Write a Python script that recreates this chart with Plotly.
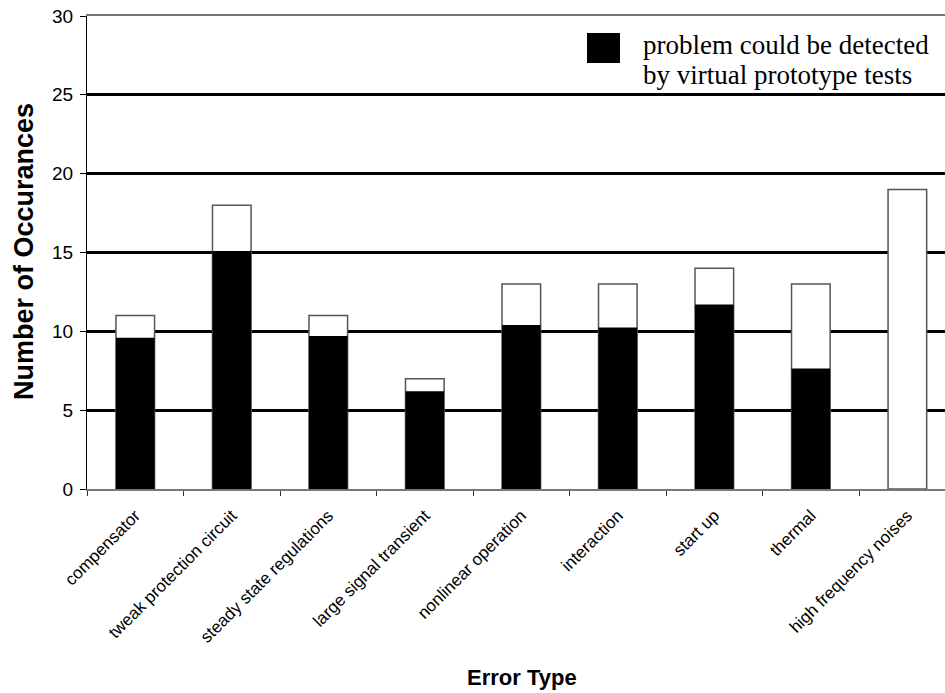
import plotly.graph_objects as go

categories = ["compensator", "tweak protection circuit", "steady state regulations",
              "large signal transient", "nonlinear operation", "interaction",
              "start up", "thermal", "high frequency noises"]
total_occurrences = [11, 18, 11, 7, 13, 13, 14, 13, 19]
detected_by_vp = [9.6, 15.1, 9.7, 6.2, 10.4, 10.25, 11.7, 7.65, 0]
y_tick_values = [0, 5, 10, 15, 20, 25, 30]
legend_lines = ["problem could be detected", "by virtual prototype tests"]
x_title = "Error Type"
y_title = "Number of Occurances"

W, H = 945, 693
# plot area in pixels
L, R, T, B = 87, 945, 16, 489
PW, PH = R - L, B - T


def px(x):
    return (x - L) / PW


def py(y):
    return (B - y) / PH


fig = go.Figure()
fig.add_trace(go.Bar(
    x=categories, y=total_occurrences, name="all problems",
    marker=dict(color="white", line=dict(color="#555555", width=1.5)),
    width=0.4, showlegend=False))
fig.add_trace(go.Bar(
    x=categories, y=detected_by_vp, name=" ".join(legend_lines),
    marker=dict(color="black", line=dict(width=0)),
    width=0.4, showlegend=False))

fig.update_layout(
    width=W, height=H,
    margin=dict(l=L, r=W - R, t=T, b=H - B),
    paper_bgcolor="white", plot_bgcolor="white",
    barmode="overlay",
    font=dict(family="Liberation Sans, Arial, sans-serif", color="black"),
    showlegend=False,
    xaxis=dict(
        range=[-0.5, 8.39],
        showline=True, linecolor="#777777", linewidth=2, mirror=True,
        ticks="outside", ticklen=5, tickcolor="#333333", tickson="boundaries",
        tickangle=-45, tickfont=dict(size=17), ticklabelstandoff=8,
        showgrid=False, automargin=False,
    ),
    yaxis=dict(
        range=[0, 30], tickvals=y_tick_values,
        showline=True, linecolor="black", linewidth=1,
        ticks="outside", ticklen=6, tickcolor="black",
        tickfont=dict(size=19), ticklabelstandoff=3, ticklabeloverflow="allow",
        showgrid=True, gridcolor="black", gridwidth=2.5,
        zeroline=False, automargin=False,
    ),
)

# axis titles
fig.add_annotation(xref="paper", yref="paper", x=px(522), y=py(677),
                   xanchor="center", yanchor="middle", showarrow=False,
                   text="<b>" + x_title + "</b>", font=dict(size=22))
fig.add_annotation(xref="paper", yref="paper", x=px(24), y=py(252),
                   xanchor="center", yanchor="middle", showarrow=False, textangle=-90,
                   text="<b>" + y_title + "</b>", font=dict(size=27))

# legend swatch and text
fig.add_shape(type="rect", xref="paper", yref="paper",
              x0=px(587), x1=px(620), y0=py(63), y1=py(33),
              fillcolor="black", line=dict(width=0))
for i, line in enumerate(legend_lines):
    fig.add_annotation(xref="paper", yref="paper", x=px(641), y=py(45 + 30 * i),
                       xanchor="left", yanchor="middle", align="left",
                       text=line, showarrow=False,
                       font=dict(family="Liberation Serif, Times New Roman, serif",
                                 size=27, color="black"))

# remove the default 8px page margin so the figure fills the window exactly
fig.write_html("out.html", config={"displayModeBar": False},
               post_script="document.body.style.margin='0';")
